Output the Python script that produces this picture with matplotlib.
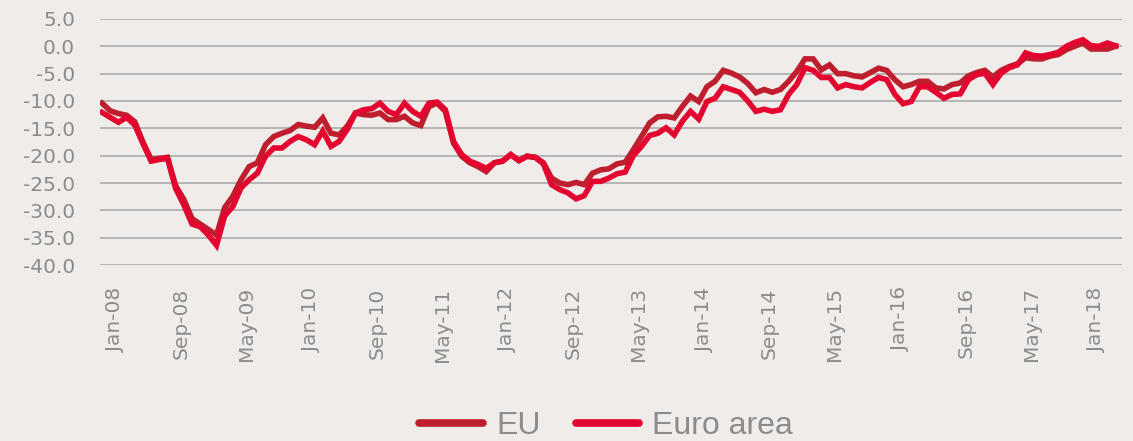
import numpy as np
import pandas as pd
import matplotlib
matplotlib.use('Agg')
import matplotlib.pyplot as plt
from matplotlib.transforms import ScaledTranslation

# monthly balances, Jan-08 .. May-18
MONTHS = pd.date_range('2008-01-01', periods=125, freq='MS')

EU = [-10.4, -11.8, -12.3, -12.6, -13.8, -17.5, -20.7, -20.5, -20.3, -25.5,
      -28.0, -31.5, -32.5, -33.5, -34.5, -29.5, -27.4, -24.4, -22.0, -21.3,
      -18.0, -16.5, -15.9, -15.4, -14.3, -14.6, -14.8, -13.1, -15.9, -16.2,
      -14.6, -12.2, -12.5, -12.6, -12.2, -13.4, -13.4, -12.8, -14.0, -14.5,
      -11.0, -10.4, -11.9, -17.7, -20.1, -21.3, -22.0, -22.9, -21.3, -21.0,
      -19.8, -20.9, -20.1, -20.3, -21.3, -24.1, -25.0, -25.3, -24.9, -25.3,
      -23.2, -22.6, -22.4, -21.5, -21.2, -18.9, -16.5, -14.0, -12.9, -12.8,
      -13.1, -11.0, -9.1, -10.1, -7.4, -6.4, -4.4, -4.9, -5.6, -6.8,
      -8.5, -7.9, -8.4, -7.9, -6.4, -4.6, -2.3, -2.3, -4.3, -3.4,
      -5.0, -5.0, -5.4, -5.6, -4.8, -4.0, -4.4, -6.1, -7.4, -7.0,
      -6.4, -6.4, -7.6, -7.8, -7.0, -6.7, -5.4, -4.8, -4.4, -5.6,
      -4.4, -3.7, -3.2, -2.1, -2.3, -2.3, -1.8, -1.5, -0.6, 0.0,
      0.6, -0.5, -0.5, -0.5, 0.0]

EURO_AREA = [-12.1, -13.0, -13.9, -13.0, -14.4, -17.8, -21.0, -20.7, -20.5, -26.0,
             -29.0, -32.5, -33.0, -34.5, -36.4, -31.0, -29.3, -25.9, -24.4, -23.2,
             -20.1, -18.6, -18.6, -17.4, -16.5, -17.1, -18.0, -15.5, -18.3, -17.4,
             -15.2, -12.2, -11.6, -11.4, -10.4, -11.9, -12.5, -10.4, -11.9, -12.8,
             -10.4, -10.2, -11.6, -17.4, -19.8, -21.0, -21.6, -22.3, -21.3, -21.0,
             -19.8, -20.9, -20.1, -20.3, -21.5, -25.3, -26.2, -26.8, -27.9, -27.3,
             -24.7, -24.7, -24.1, -23.3, -23.0, -20.0, -18.3, -16.3, -15.9, -14.9,
             -16.2, -13.7, -11.9, -13.3, -10.1, -9.5, -7.4, -7.9, -8.4, -10.0,
             -11.9, -11.5, -11.9, -11.6, -8.8, -7.0, -3.9, -4.4, -5.7, -5.7,
             -7.6, -7.0, -7.4, -7.6, -6.6, -5.7, -6.1, -8.8, -10.5, -10.1,
             -7.4, -7.4, -8.4, -9.5, -8.8, -8.7, -6.1, -5.2, -4.9, -7.0,
             -4.9, -3.9, -3.4, -1.2, -1.7, -1.8, -1.5, -1.1, 0.0, 0.7,
             1.2, 0.1, 0.0, 0.6, 0.1]

TICK_LABELS = ['Jan-08', 'Sep-08', 'May-09', 'Jan-10', 'Sep-10', 'May-11',
               'Jan-12', 'Sep-12', 'May-13', 'Jan-14', 'Sep-14', 'May-15',
               'Jan-16', 'Sep-16', 'May-17', 'Jan-18']

BG = '#EFECE9'
GRID = '#B5B5B5'
TXT = '#8C8C8C'
C_EU = '#BE1E2D'
C_EA = '#E4032E'

x = np.arange(len(MONTHS))
labels_all = [d.strftime('%b-%y') for d in MONTHS]
tick_pos = [labels_all.index(t) for t in TICK_LABELS]

fig = plt.figure(figsize=(11.33, 4.41), dpi=100, facecolor=BG)
ax = fig.add_axes([0.0883, 0.399, 0.9017, 0.558])
ax.set_facecolor(BG)

ax.plot(x, EU, color=C_EU, lw=4.0, solid_joinstyle='miter', label='EU', zorder=3)
ax.plot(x, EURO_AREA, color=C_EA, lw=4.0, solid_joinstyle='miter', label='Euro area', zorder=4)

ax.set_ylim(-40, 5)
ax.set_xlim(-0.25, 124.75)
ax.set_yticks(np.arange(-40, 5.1, 5))
ax.set_yticklabels([f'{v:.1f}' for v in np.arange(-40, 5.1, 5)])
ax.yaxis.grid(True, color=GRID, lw=1.4)
ax.set_axisbelow(True)
for s in ax.spines.values():
    s.set_visible(False)

ax.set_xticks(tick_pos)
ax.set_xticklabels(TICK_LABELS, rotation=90, va='top', ha='center')
ax.tick_params(axis='x', length=0, pad=16, labelsize=14.5, labelcolor=TXT)
ax.tick_params(axis='y', length=0, pad=18, labelsize=14.5, labelcolor=TXT)
for lab in ax.get_xticklabels() + ax.get_yticklabels():
    lab.set_family('DejaVu Sans')
off = ScaledTranslation(0.136, 0, fig.dpi_scale_trans)
for lab in ax.get_xticklabels():
    lab.set_transform(lab.get_transform() + off)

leg = fig.legend(loc='center', bbox_to_anchor=(0.535, 0.034), ncol=2, frameon=False,
                 prop={'family': 'Liberation Sans', 'size': 23},
                 handlelength=2.0, handletextpad=0.4, columnspacing=1.1)
for h in leg.get_lines():
    h.set_linewidth(5.5)
    h.set_solid_capstyle('round')
for t in leg.get_texts():
    t.set_color(TXT)

fig.savefig('out.png', dpi=100, facecolor=BG)
